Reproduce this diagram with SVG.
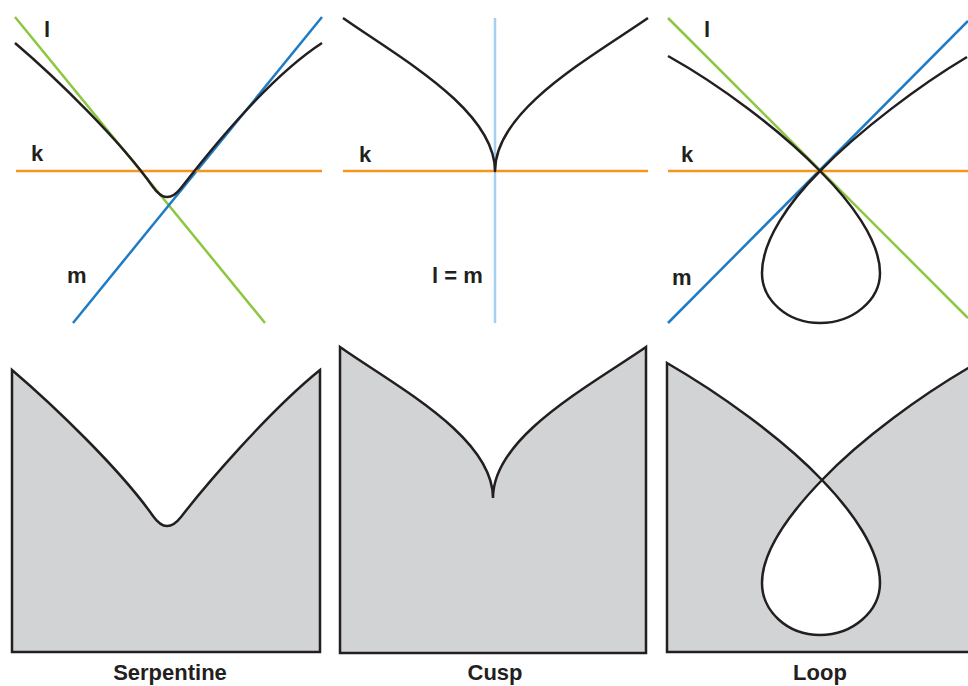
<svg xmlns="http://www.w3.org/2000/svg" width="968" height="686" viewBox="0 0 968 686">
<style>
.l{stroke:#8dc63f;stroke-width:2.5;fill:none}
.m{stroke:#1f7cc4;stroke-width:2.5;fill:none}
.lm{stroke:#a5cff0;stroke-width:2.5;fill:none}
.k{stroke:#f7941d;stroke-width:2.5;fill:none}
.c{stroke:#231f20;stroke-width:2.5;fill:none;stroke-linejoin:round}
.sh{stroke:#231f20;stroke-width:2.5;fill:#d1d3d4;stroke-linejoin:miter;fill-rule:evenodd}
.lab{font-family:"Liberation Sans",Arial,Helvetica,sans-serif;font-weight:bold;font-size:22px;fill:#231f20}
.cap{font-family:"Liberation Sans",Arial,Helvetica,sans-serif;font-weight:bold;font-size:22px;fill:#231f20;text-anchor:middle}
</style>
<rect width="968" height="686" fill="#ffffff"/>
<g id="serpentine-top">
<line class="l" x1="15" y1="17" x2="265" y2="323"/>
<line class="m" x1="73" y1="323" x2="322" y2="17"/>
<line class="k" x1="16" y1="171" x2="322" y2="171"/>
<path class="c" d="M15,43 C55,77 120,140 153,187 Q160,197 167,197 Q174,197 181,188 C205,157 265,80 322,43"/>
<text class="lab" x="44" y="37">l</text>
<text class="lab" x="31" y="161">k</text>
<text class="lab" x="67" y="283">m</text>
</g>
<g id="cusp-top">
<line class="lm" x1="495" y1="18" x2="495" y2="323"/>
<line class="k" x1="343" y1="171" x2="648" y2="171"/>
<path class="c" d="M343,18 C400,58 495,110 495,171 C495,110 590,58 648,18"/>
<text class="lab" x="359" y="162">k</text>
<text class="lab" x="432" y="283">l = m</text>
</g>
<g id="loop-top">
<line class="l" x1="668" y1="18" x2="968" y2="318"/>
<line class="m" x1="668" y1="323" x2="968" y2="21"/>
<line class="k" x1="668" y1="171" x2="968" y2="171"/>
<path class="c" d="M668,56 C720,85 780,130 820,171 C850,201 880,240 880,273 C880,300 853,323 820,323 C787,323 762,300 762,273 C762,240 790,201 820,171 C860,130 920,85 967,57"/>
<text class="lab" x="704" y="37">l</text>
<text class="lab" x="681" y="162">k</text>
<text class="lab" x="672" y="285">m</text>
</g>
<g id="serpentine-bottom">
<path class="sh" d="M12,370 C53,405 120,469 153,516 Q160,526 167,526 Q174,526 181,517 C205,486 268,412 320,370 L320,652 L12,652 Z"/>
<text class="cap" x="170" y="680">Serpentine</text>
</g>
<g id="cusp-bottom">
<path class="sh" d="M340,347 C397,387 493,437 493,498 C493,437 588,387 646,347 L646,653 L340,653 Z"/>
<text class="cap" x="495" y="680">Cusp</text>
</g>
<g id="loop-bottom">
<path class="sh" d="M667,363 C719,393 782,438 822,480 C852,511 880,550 880,583 C880,611 853,635 820,635 C787,635 762,611 762,583 C762,550 792,511 822,480 C862,438 922,395 970,367 L970,652 L667,652 Z"/>
<text class="cap" x="820" y="680">Loop</text>
</g>
</svg>
